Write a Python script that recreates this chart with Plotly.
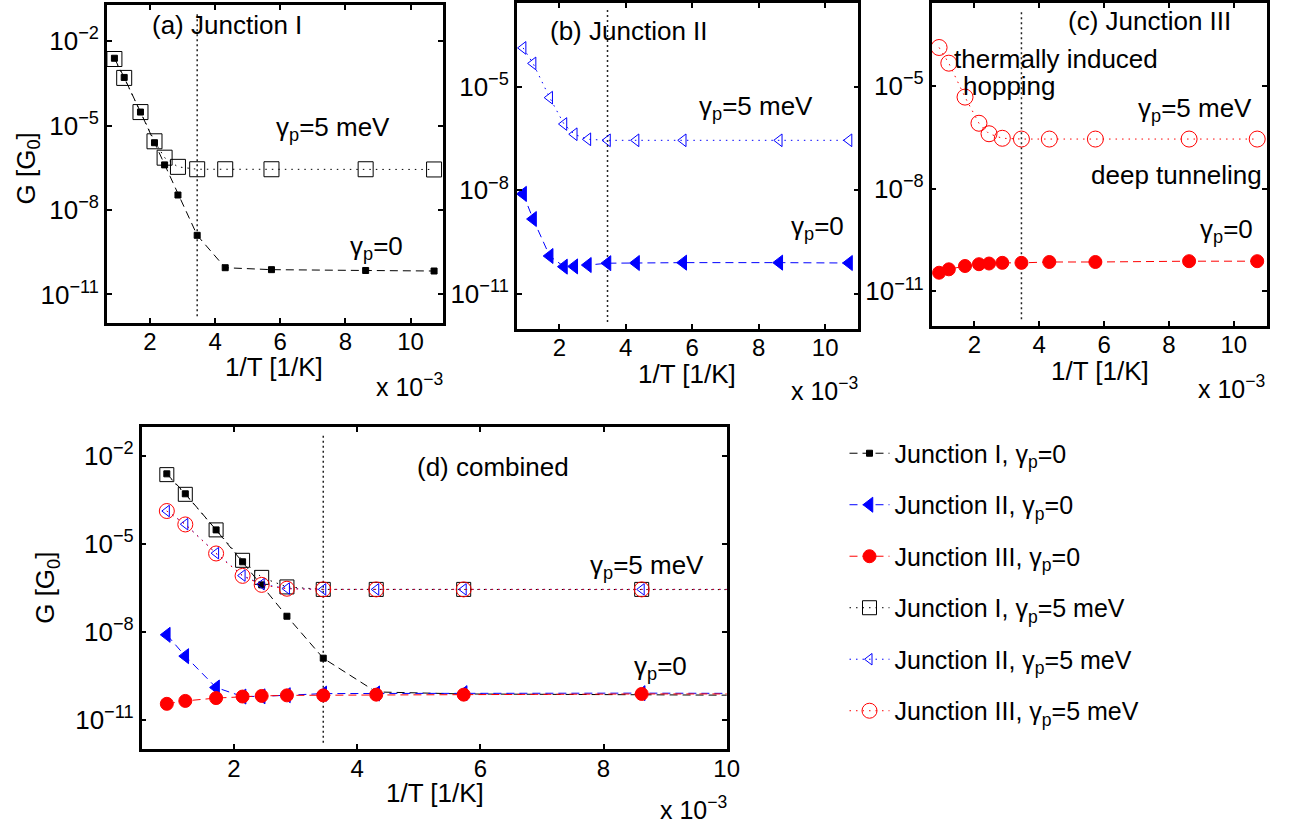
import plotly.graph_objects as go

W, H = 1305, 825

# ---------------- data ----------------
inv_T = [0.91, 1.21, 1.71, 2.14, 2.45, 2.86, 3.45, 4.31, 5.73, 8.62, 10.72]  # 1/T in 1e-3 1/K
room_T = 3.45

G_I_0 = [2.45e-3, 5.1e-4, 3.0e-5, 2.45e-6, 4.0e-7, 3.4e-8, 1.26e-9, 8.9e-11, 7.6e-11, 7.1e-11, 6.8e-11]
G_I_5 = [2.3e-3, 4.9e-4, 3.0e-5, 2.75e-6, 7.2e-7, 3.4e-7, 2.8e-7, 2.8e-7, 2.8e-7, 2.8e-7, 2.75e-7]
G_II_0 = [7.9e-9, 1.48e-9, 1.26e-10, 6.2e-11, 6.3e-11, 6.9e-11, 7.8e-11, 7.9e-11, 8.1e-11, 8.1e-11, 7.9e-11]
G_II_5 = [1.32e-4, 4.7e-5, 4.8e-6, 8.3e-7, 4.2e-7, 3.0e-7, 2.8e-7, 2.8e-7, 2.8e-7, 2.8e-7, 2.8e-7]
G_III_0 = [3.5e-11, 4.4e-11, 5.5e-11, 6.2e-11, 6.5e-11, 6.8e-11, 6.8e-11, 7.2e-11, 7.2e-11, 7.6e-11, 7.6e-11]
G_III_5 = [1.32e-4, 4.6e-5, 4.7e-6, 8.1e-7, 4.0e-7, 2.95e-7, 2.8e-7, 2.8e-7, 2.8e-7, 2.8e-7, 2.8e-7]

x_ticks = [2, 4, 6, 8, 10]
y_ticks_a = [1e-2, 1e-5, 1e-8, 1e-11]
y_labels_a = ["10<sup>−2</sup>", "10<sup>−5</sup>", "10<sup>−8</sup>", "10<sup>−11</sup>"]
y_ticks_b = [1e-5, 1e-8, 1e-11]
y_labels_b = ["10<sup>−5</sup>", "10<sup>−8</sup>", "10<sup>−11</sup>"]

legend_names = ["Junction I, γ<sub>p</sub>=0", "Junction II, γ<sub>p</sub>=0", "Junction III, γ<sub>p</sub>=0",
                "Junction I, γ<sub>p</sub>=5 meV", "Junction II, γ<sub>p</sub>=5 meV", "Junction III, γ<sub>p</sub>=5 meV"]

FONT = "Liberation Sans, Arial, Helvetica, sans-serif"
FS = 26
TFS = 24
DASH = "8px,5px"
DOT = "1.5px,5px"

BLACK, BLUE, RED = "#000000", "#0000ff", "#ff0000"

def styles(sizes):
    return [
        (G_I_0, BLACK, DASH, "square", sizes[0], 0),
        (G_II_0, BLUE, DASH, "triangle-left", sizes[1], 1),
        (G_III_0, RED, DASH, "circle", sizes[2], 2),
        (G_I_5, BLACK, DOT, "square-open", sizes[3], 3),
        (G_II_5, BLUE, DOT, "triangle-left-open", sizes[4], 4),
        (G_III_5, RED, DOT, "circle-open", sizes[5], 5),
    ]

fig = go.Figure()

def add(series, color, dash, symbol, size, idx, xa, ya, show):
    fig.add_trace(go.Scatter(
        x=inv_T, y=series, xaxis=xa, yaxis=ya, mode="lines+markers",
        line=dict(color=color, width=1, dash=dash),
        marker=dict(symbol=symbol, size=size, color=color, line=dict(color=color, width=1)),
        name=legend_names[idx], legendgroup="g%d" % idx, showlegend=show, legendrank=idx + 1,
    ))

st = styles([6, 13, 13, 15, 11, 16])
add(*st[0], "x", "y", False)
add(*st[3], "x", "y", False)
add(*st[1], "x2", "y2", False)
add(*st[4], "x2", "y2", False)
add(*st[2], "x3", "y3", False)
add(*st[5], "x3", "y3", False)
for s in styles([6, 13, 13, 14, 10, 15]):
    add(*s, "x4", "y4", True)

def xaxis(lo, hi, anchor, rng):
    return dict(domain=[lo / W, hi / W], range=rng, anchor=anchor, tickvals=x_ticks,
                ticks="inside", ticklen=5, tickwidth=1.5, tickcolor="black",
                showline=True, linewidth=2.5, linecolor="black", mirror="ticks",
                ticklabelstandoff=-4,
                showgrid=False, zeroline=False, tickfont=dict(size=TFS, color="black", family=FONT))

def yaxis(top, bot, anchor, rng, tv, tt):
    return dict(domain=[1 - bot / H, 1 - top / H], range=rng, anchor=anchor, type="log",
                tickvals=tv, ticktext=tt,
                ticks="inside", ticklen=5, tickwidth=1.5, tickcolor="black",
                showline=True, linewidth=2.5, linecolor="black", mirror="ticks",
                showgrid=False, zeroline=False, tickfont=dict(size=FS, color="black", family=FONT))

fig.update_layout(
    width=W, height=H, margin=dict(l=0, r=0, t=0, b=0),
    paper_bgcolor="white", plot_bgcolor="white",
    font=dict(family=FONT, size=FS, color="black"),
    xaxis=xaxis(108, 447, "y", [0.68, 10.98]),
    yaxis=yaxis(4, 322, "x", [-12, -0.72], y_ticks_a, y_labels_a),
    xaxis2=xaxis(522, 867, "y2", [0.72, 11.0]),
    yaxis2=yaxis(2, 328, "x2", [-12, -2.58], y_ticks_b, y_labels_b),
    xaxis3=xaxis(941, 1280, "y3", [0.68, 11.03]),
    yaxis3=yaxis(2, 325, "x3", [-12, -2.58], y_ticks_b, y_labels_b),
    xaxis4=xaxis(143, 734, "y4", [0.5, 10.0]),
    yaxis4=yaxis(427, 749, "x4", [-12, -1.03], y_ticks_a, y_labels_a),
    legend=dict(x=853 / W, y=1 - 430 / H, xanchor="left", yanchor="top",
                font=dict(size=25, family=FONT, color="black"),
                tracegroupgap=16, itemwidth=40, bgcolor="rgba(0,0,0,0)", traceorder="grouped"),
)

for xr, yr in [("x", "y"), ("x2", "y2"), ("x3", "y3"), ("x4", "y4")]:
    fig.add_shape(type="line", xref=xr, yref=yr + " domain", x0=room_T, x1=room_T, y0=0.02, y1=0.98,
                  line=dict(color="#222222", width=1.5, dash="2px,3px"), layer="below")

def ann(text, x, y, xanchor="left", yanchor="middle", size=FS, angle=0):
    fig.add_annotation(text=text, x=x / W, y=1 - y / H, xref="paper", yref="paper",
                       xanchor=xanchor, yanchor=yanchor, showarrow=False, textangle=angle,
                       font=dict(size=size, family=FONT, color="black"))

ann("(a) Junction I", 152, 24)
ann("(b) Junction II", 554, 30)
ann("(c) Junction III", 1077, 20)
ann("(d) combined", 419, 467)

gp5 = "γ<sub>p</sub>=5 meV"
gp0 = "γ<sub>p</sub>=0"
ann(gp5, 277, 128)
ann(gp0, 352, 247)
ann(gp5, 704, 107)
ann(gp0, 797, 227)
ann(gp5, 1147, 109)
ann(gp0, 1210, 230)
ann(gp5, 594, 566)
ann(gp0, 638, 667)

ann("thermally induced", 962, 58)
ann("hopping", 971, 85)
ann("deep tunneling", 1100, 174)

ann("G [G<sub>0</sub>]", 28, 168, xanchor="center", angle=-90)
ann("G [G<sub>0</sub>]", 47, 588, xanchor="center", angle=-90)
for cx, cy in [(277, 366), (694, 373), (1111, 370), (439, 793)]:
    ann("1/T [1/K]", cx, cy, xanchor="center")
for rx, cy in [(449, 384), (869, 388), (1280, 386), (736, 808)]:
    ann("x 10<sup>−3</sup>", rx, cy, xanchor="right", size=25)

fig.write_html("out.html", post_script="document.body.style.margin='0px';",
               config={"displayModeBar": False})
